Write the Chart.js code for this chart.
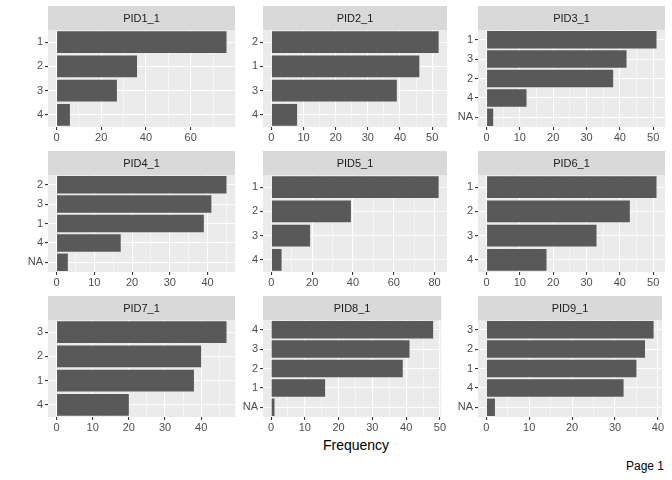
<!DOCTYPE html>
<html><head><meta charset="utf-8">
<script src="https://cdn.jsdelivr.net/npm/chart.js@4"></script>
<style>
body{margin:0;width:672px;height:480px;background:#fff;position:relative;overflow:hidden;font-family:"Liberation Sans",Arial,sans-serif}
.p{position:absolute}
#xt{position:absolute;left:0;width:712px;top:437px;text-align:center;font-size:14px;color:#000}
#pg{position:absolute;right:8px;top:459px;font-size:12px;color:#000}
</style></head><body>
<div id="xt">Frequency</div><div id="pg">Page 1</div>
<script>
const titles=["PID1_1","PID2_1","PID3_1","PID4_1","PID5_1","PID6_1","PID7_1","PID8_1","PID9_1"];
const cats1=["1","2","3","4"],vals1=[76,36,27,6];
const cats2=["2","1","3","4"],vals2=[52,46,39,8];
const cats3=["1","3","2","4","NA"],vals3=[51,42,38,12,2];
const cats4=["2","3","1","4","NA"],vals4=[45,41,39,17,3];
const cats5=["1","2","3","4"],vals5=[82,39,19,5];
const cats6=["1","2","3","4"],vals6=[51,43,33,18];
const cats7=["3","2","1","4"],vals7=[47,40,38,20];
const cats8=["4","3","2","1","NA"],vals8=[48,41,39,16,1];
const cats9=["3","2","1","4","NA"],vals9=[39,37,35,32,2];
const steps=[20,10,10,10,20,10,10,10,10];
const cats=[cats1,cats2,cats3,cats4,cats5,cats6,cats7,cats8,cats9];
const vals=[vals1,vals2,vals3,vals4,vals5,vals6,vals7,vals8,vals9];
const colL=[56-8,271-8,486-8],colW=[187,184,187];
const rowT=[6,151,296],stripH=24,plotH=97,YW=30,XH=22;
const bgPlugin={id:'bg',beforeDraw(c,a,o){const ctx=c.ctx,ca=c.chartArea;ctx.save();
ctx.fillStyle='#EBEBEB';ctx.fillRect(ca.left,ca.top,ca.right-ca.left,ca.bottom-ca.top);
ctx.fillStyle='#D9D9D9';ctx.fillRect(ca.left,ca.top-stripH,ca.right-ca.left,stripH);
ctx.fillStyle='#1A1A1A';ctx.font='11px "Liberation Sans", Arial';ctx.textAlign='center';ctx.textBaseline='middle';
ctx.fillText(o.t,(ca.left+ca.right)/2,ca.top-stripH/2+1);ctx.restore();}};
for(let i=0;i<9;i++){
 const r=Math.floor(i/3),cI=i%3;
 const d=document.createElement('div');d.className='p';
 const W=YW+colW[cI],H=stripH+plotH+XH;
 d.style.left=(colL[cI]-YW)+'px';d.style.top=rowT[r]+'px';d.style.width=W+'px';d.style.height=H+'px';
 const cv=document.createElement('canvas');d.appendChild(cv);document.body.appendChild(d);
 const mx=Math.max(...vals[i]),st=steps[i];
 new Chart(cv,{type:'bar',plugins:[bgPlugin],
 data:{labels:cats[i],datasets:[{data:vals[i],backgroundColor:'#595959',barPercentage:0.9,categoryPercentage:1}]},
 options:{indexAxis:'y',animation:false,responsive:true,maintainAspectRatio:false,devicePixelRatio:1,
  layout:{padding:{top:stripH,left:0,right:0,bottom:0}},
  plugins:{legend:{display:false},tooltip:{enabled:false},bg:{t:titles[i]}},
  scales:{
   x:{type:'linear',min:-0.05*mx,max:1.05*mx,border:{display:false},
    afterFit(s){s.height=XH;},
    afterBuildTicks(s){const t=[];for(let v=0;v<=s.max+1e-9;v+=st/2)t.push({value:v});s.ticks=t;},
    ticks:{autoSkip:false,maxRotation:0,padding:1,color:'#4D4D4D',font:{size:11,family:'"Liberation Sans", Arial'},
     callback:(v)=>(Math.abs(v/st-Math.round(v/st))<1e-6)?String(v):''},
    grid:{color:'#FFFFFF',lineWidth:(c)=>{const v=c.tick?c.tick.value:0;return Math.abs(v/st-Math.round(v/st))<1e-6?1.1:0.5;},
     drawTicks:true,tickLength:3,tickColor:(c)=>{const v=c.tick?c.tick.value:0;return Math.abs(v/st-Math.round(v/st))<1e-6?'#333333':'rgba(0,0,0,0)';}}},
   y:{type:'category',offset:true,border:{display:false},afterFit(s){s.width=YW;},
    ticks:{padding:2,color:'#4D4D4D',font:{size:11,family:'"Liberation Sans", Arial'}},
    grid:{offset:false,color:'#FFFFFF',lineWidth:1.1,drawTicks:true,tickLength:3,tickColor:'#333333'}}
  }}});
}
</script></body></html>
